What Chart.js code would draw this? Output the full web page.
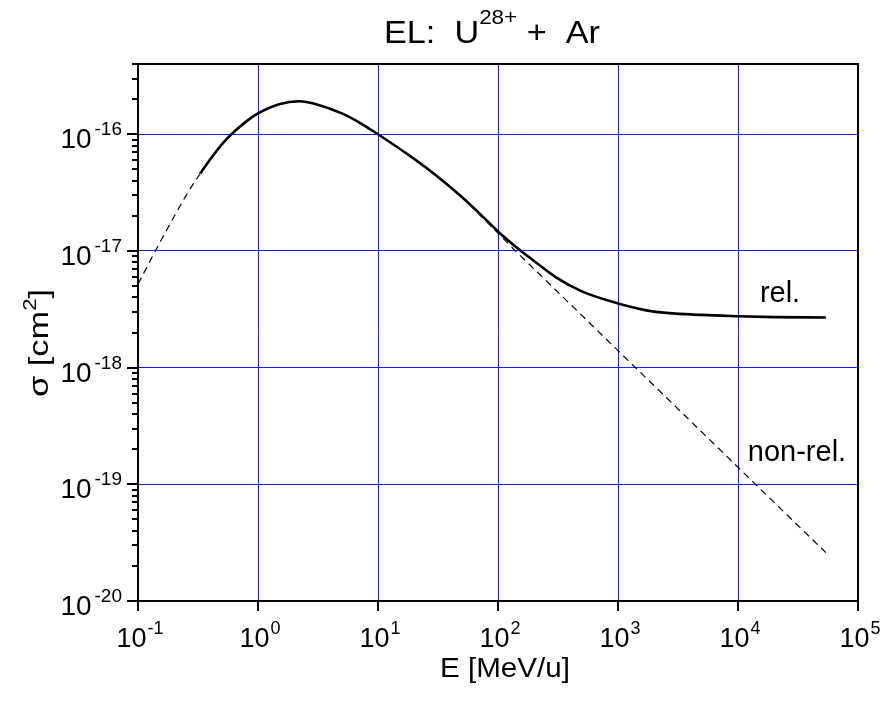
<!DOCTYPE html>
<html>
<head>
<meta charset="utf-8">
<title>EL: U28+ + Ar</title>
<script src="https://cdn.jsdelivr.net/npm/chart.js@4/dist/chart.umd.min.js"></script>
<style>
  html, body { margin: 0; padding: 0; background: #fff; }
  #wrap { width: 883px; height: 709px; position: relative; }
</style>
</head>
<body>
<div id="wrap"><canvas id="c" width="883" height="709"></canvas></div>
<script>
// Electron loss cross section of U28+ on Ar vs. projectile energy
const relEnergy = [0.33, 0.4, 0.5, 0.6, 0.8, 1, 1.5, 2.2, 3, 5, 7, 10, 20, 30, 50, 70, 100, 150, 200, 300, 500, 1000, 2000, 5000, 10000, 20000, 54000];
const relSigma  = [4.6e-17, 6.1e-17, 8.2e-17, 1.0e-16, 1.29e-16, 1.51e-16, 1.81e-16, 1.92e-16, 1.82e-16, 1.51e-16, 1.26e-16, 1.0e-16,
                   6.15e-17, 4.5e-17, 2.9e-17, 2.1e-17, 1.47e-17, 1.03e-17, 8.2e-18, 6.0e-18, 4.5e-18, 3.55e-18, 3.02e-18, 2.83e-18, 2.76e-18, 2.71e-18, 2.69e-18];

const nonRelEnergy = [0.1, 0.15, 0.2, 0.25, 0.3, 0.4, 0.5, 0.6, 0.8, 1, 1.5, 2.2, 3, 5, 7, 10, 20, 30, 50, 70, 100, 150, 200, 500, 1000, 2000, 5000, 10000, 20000, 54000];
const nonRelSigma  = [5.2e-18, 1.15e-17, 1.97e-17, 2.95e-17, 3.98e-17, 6.1e-17, 8.2e-17, 1.0e-16, 1.29e-16, 1.51e-16, 1.81e-16, 1.92e-16, 1.82e-16, 1.51e-16, 1.26e-16, 1.0e-16,
                      6.15e-17, 4.5e-17, 2.9e-17, 2.05e-17, 1.42e-17, 9.33e-18, 7.0e-18, 2.8e-18, 1.4e-18, 7.0e-19, 2.8e-19, 1.4e-19, 7.0e-20, 2.6e-20];

// Axis ranges and decade tick marks
const xTicks = [0.1, 1, 10, 100, 1000, 10000, 100000];
const xTickExp = ['-1', '0', '1', '2', '3', '4', '5'];
const yTicks = [1e-20, 1e-19, 1e-18, 1e-17, 1e-16];
const yTickExp = ['-20', '-19', '-18', '-17', '-16'];
const yMin = 1e-20, yMax = 4e-16;

const curveLabels = [
  { text: 'rel.', x: 2.24e4, y: 3.67e-18 },
  { text: 'non-rel.', x: 3.1e4, y: 1.57e-19 }
];

const FONT = '"Liberation Sans", Arial, Helvetica, sans-serif';
const GRID_BLUE = '#1a1aff';

function toPoints(xs, ys) { return xs.map((x, i) => ({ x: x, y: ys[i] })); }

// Text with a raised exponent, e.g. 10^-16
function drawPower(ctx, base, exp, x, baseY, supY, size, supSize, align, gap) {
  ctx.font = size + 'px ' + FONT;
  const wb = ctx.measureText(base).width;
  ctx.font = supSize + 'px ' + FONT;
  const we = ctx.measureText(exp).width;
  const total = wb + gap + we;
  let left = x;
  if (align === 'center') left = x - total / 2;
  else if (align === 'right') left = x - total;
  ctx.textAlign = 'left';
  ctx.textBaseline = 'alphabetic';
  ctx.font = size + 'px ' + FONT;
  ctx.fillText(base, left, baseY);
  ctx.font = supSize + 'px ' + FONT;
  ctx.fillText(exp, left + wb + gap, supY);
}

// A run of text pieces [text, size, rise], centred at (cx, baseline) and stretched to a width
function drawRun(ctx, pieces, cx, baseY, width) {
  let total = 0;
  const ws = pieces.map(p => { ctx.font = p[1] + 'px ' + FONT; const w = ctx.measureText(p[0]).width; total += w; return w; });
  const k = width / total;
  ctx.save();
  ctx.translate(cx, baseY);
  ctx.scale(k, 1);
  ctx.textAlign = 'left';
  ctx.textBaseline = 'alphabetic';
  let x = -total / 2;
  pieces.forEach((p, i) => {
    ctx.font = p[1] + 'px ' + FONT;
    ctx.fillText(p[0], x, -p[2]);
    x += ws[i];
  });
  ctx.restore();
}

const decorations = {
  id: 'decorations',
  afterDraw(chart) {
    const ctx = chart.ctx;
    const a = chart.chartArea;
    const xs = chart.scales.x, ys = chart.scales.y;
    ctx.save();
    ctx.fillStyle = '#000';
    ctx.strokeStyle = '#000';

    // frame
    ctx.lineWidth = 2;
    ctx.strokeRect(a.left, a.top, a.right - a.left, a.bottom - a.top);

    // x major ticks
    ctx.beginPath();
    xTicks.forEach(v => {
      const px = Math.round(xs.getPixelForValue(v));
      ctx.moveTo(px, a.bottom);
      ctx.lineTo(px, a.bottom + 10);
    });
    ctx.stroke();

    // y major and minor ticks
    ctx.beginPath();
    for (let e = -20; e <= -16; e++) {
      for (let m = 1; m <= 9; m++) {
        const v = m * Math.pow(10, e);
        if (v > yMax * 1.0001) break;
        const py = Math.round(ys.getPixelForValue(v));
        const len = m === 1 ? 11 : 6;
        ctx.moveTo(a.left, py);
        ctx.lineTo(a.left - len, py);
      }
    }
    ctx.stroke();

    // x tick labels
    xTicks.forEach((v, i) => {
      const px = xs.getPixelForValue(v);
      drawPower(ctx, '10', xTickExp[i], px + 2, a.bottom + 46, a.bottom + 33, 27, 18, 'center', 1);
    });

    // y tick labels
    yTicks.forEach((v, i) => {
      const py = ys.getPixelForValue(v);
      drawPower(ctx, '10', yTickExp[i], a.left - 16, py + 14, py + 1, 28, 19, 'right', 3);
    });

    // title
    drawRun(ctx, [['EL:  U', 32, 0], ['28+', 21, 19], [' +  Ar', 32, 0]], 492, 43, 216);

    // x axis title
    drawRun(ctx, [['E [MeV/u]', 28, 0]], 505, 677, 130);

    // y axis title (rotated)
    ctx.save();
    ctx.translate(48, 343);
    ctx.rotate(-Math.PI / 2);
    drawRun(ctx, [['σ [cm', 28, 0], ['2', 18, 12], [']', 28, 0]], 0, 0, 108);
    ctx.restore();

    // curve labels
    ctx.font = '29px ' + FONT;
    ctx.textAlign = 'center';
    ctx.textBaseline = 'alphabetic';
    curveLabels.forEach(l => {
      ctx.fillText(l.text, xs.getPixelForValue(l.x), ys.getPixelForValue(l.y));
    });

    ctx.restore();
  }
};

new Chart(document.getElementById('c'), {
  type: 'scatter',
  data: {
    datasets: [
      {
        label: 'rel.',
        data: toPoints(relEnergy, relSigma),
        showLine: true,
        borderColor: '#000',
        borderWidth: 2.6,
        pointRadius: 0,
        cubicInterpolationMode: 'monotone',
        order: 1
      },
      {
        label: 'non-rel.',
        data: toPoints(nonRelEnergy, nonRelSigma),
        showLine: true,
        borderColor: '#000',
        borderWidth: 1.2,
        borderDash: [7, 5],
        pointRadius: 0,
        cubicInterpolationMode: 'monotone',
        order: 2
      }
    ]
  },
  options: {
    responsive: false,
    animation: false,
    events: [],
    layout: { padding: { left: 0, top: 64, right: 25, bottom: 0 } },
    plugins: { legend: { display: false }, tooltip: { enabled: false }, title: { display: false } },
    scales: {
      x: {
        type: 'logarithmic',
        min: 0.1,
        max: 100000,
        afterBuildTicks: axis => { axis.ticks = xTicks.map(v => ({ value: v })); },
        afterFit: axis => { axis.height = 108; },
        ticks: { display: false },
        grid: { drawTicks: false, color: GRID_BLUE, lineWidth: 1 },
        border: { display: false }
      },
      y: {
        type: 'logarithmic',
        min: yMin,
        max: yMax,
        afterBuildTicks: axis => { axis.ticks = yTicks.map(v => ({ value: v })); },
        afterFit: axis => { axis.width = 138; },
        ticks: { display: false },
        grid: { drawTicks: false, color: GRID_BLUE, lineWidth: 1 },
        border: { display: false }
      }
    }
  },
  plugins: [decorations]
});
</script>
</body>
</html>
